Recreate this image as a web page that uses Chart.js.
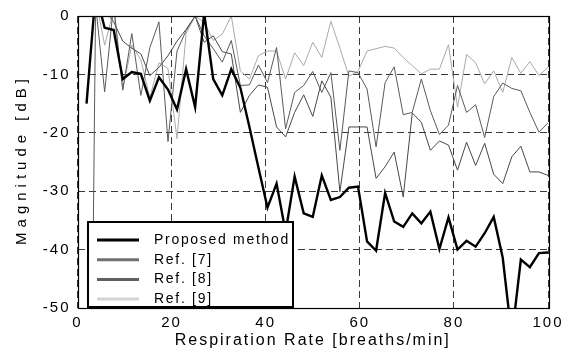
<!DOCTYPE html>
<html><head><meta charset="utf-8">
<script src="https://cdn.jsdelivr.net/npm/chart.js@4.4.0/dist/chart.umd.min.js"></script>
<style>html,body{margin:0;padding:0;background:#fff;overflow:hidden}canvas{display:block}</style>
</head><body>
<canvas id="c" width="573" height="352"></canvas>
<script>
// Respiration rate bins [breaths/min]
const rates = [1.92,3.85,5.77,7.69,9.62,11.54,13.46,15.38,17.31,19.23,21.15,23.08,25,26.92,28.85,30.77,32.69,34.62,36.54,38.46,40.38,42.31,44.23,46.15,48.08,50,51.92,53.85,55.77,57.69,59.62,61.54,63.46,65.38,67.31,69.23,71.15,73.08,75,76.92,78.85,80.77,82.69,84.62,86.54,88.46,90.38,92.31,94.23,96.15,98.08,100];

// Magnitude [dB]
const proposed = [-15,4,-2,-2.4,-10.8,-9.6,-9.9,-14.5,-10.5,-12.6,-16,-9.1,-15.6,0.5,-10.8,-13.6,-9.1,-12.3,-19,-26,-32.8,-28.7,-37,-27.5,-33.8,-34.4,-27.3,-31.5,-31,-29.4,-29.2,-38.6,-40.2,-30.3,-35.2,-36.1,-33.8,-35.5,-33.5,-39.9,-34.5,-40,-38.5,-39.5,-37.2,-34.4,-41.4,-55,-41.7,-43,-40.6,-40.5];
const ref7 = [-150,2,-13,2,-12.7,-3,-13.6,-5.4,-1,-21.5,-6,-2.5,0,-3.4,-5.6,-7.9,-4.2,-11.9,-11.8,-8.4,-11.4,-5.4,-19.3,-13.1,-11.9,-9.5,-13.1,-9.7,-23,-9.4,-9.7,-12.5,-22.4,-11.4,-8.7,-16.9,-16.5,-10.8,-16.2,-20.3,-18.7,-11.9,-16.5,-15.2,-20.8,-13.8,-11.5,-12.4,-12.8,-16.5,-19.9,-18.3];
const ref8 = [3,3,1,-1,-4.3,-5.5,-6.5,-10.2,-8.8,-6.8,-4.3,-2.3,0,-4.5,-3.4,-6.1,-6.5,-16.5,-13.6,-11.8,-12.2,-19,-20.7,-16.5,-13.5,-17.2,-11.1,-13.9,-30.1,-19,-19,-19,-27.8,-25.8,-23.3,-31,-16.6,-18.2,-23,-21.4,-22.1,-26.4,-21.6,-25.6,-21.8,-27.1,-28.7,-24.1,-22.3,-26.7,-26.7,-27.3];
const ref9 = [2,3,-5,1,-12.5,-5,-7.5,-14,-8,-9,-21,-3,0,-1.1,-4.2,-3.1,0,-9.4,-10.8,-6.8,-6,-6,-10.8,-6.3,-8.5,-4.5,-7.1,-0.9,-5.5,-10.3,-9.5,-6,-5.6,-5.2,-5.5,-7.1,-8.5,-9.9,-9.1,-9.1,-4.9,-15.6,-6.6,-8,-11.6,-9.4,-13.1,-7.1,-9.8,-7.8,-10.2,-8.8];

const seriesNames = ['Proposed method','Ref. [7]','Ref. [8]','Ref. [9]'];
const xTickValues = [0,20,40,60,80,100];
const yTickValues = [0,-10,-20,-30,-40,-50];
const yTitle = 'Magnitude [dB]';

const FONT = "'Liberation Sans', Arial, sans-serif";
const pts = arr => arr.map((v,i)=>({x:rates[i], y:v}));

const spacing = {
  id:'spacing',
  beforeLayout(c){ c.ctx.letterSpacing='2px'; },
  beforeDraw(c){ c.ctx.letterSpacing='2px'; }
};

const frame = {
  id:'frame',
  afterDatasetsDraw(c){
    const {ctx, chartArea:a} = c;
    ctx.save();
    ctx.strokeStyle='#000'; ctx.lineWidth=1.2;
    ctx.strokeRect(Math.round(a.left)+0.5, Math.round(a.top)+0.5, Math.round(a.right-a.left), Math.round(a.bottom-a.top));
    ctx.restore();
  }
};

const yTitlePlugin = {
  id:'yTitlePlugin',
  afterDraw(c){
    const {ctx, chartArea:a} = c;
    ctx.save();
    ctx.letterSpacing='5px';
    ctx.font='15px ' + FONT;
    ctx.fillStyle='#000';
    ctx.textAlign='center'; ctx.textBaseline='middle';
    ctx.translate(22, (a.top+a.bottom)/2);
    ctx.rotate(-Math.PI/2);
    ctx.fillText(yTitle, 2.5, 0);
    ctx.restore();
  }
};

const boxLegend = {
  id:'boxLegend',
  afterDraw(c, args, o){
    const ctx=c.ctx;
    ctx.save();
    ctx.letterSpacing='1.7px';
    ctx.fillStyle='#fff';
    ctx.fillRect(o.x, o.y, o.w, o.h);
    ctx.font = '14px ' + FONT;
    ctx.textBaseline='middle';
    c.data.datasets.forEach((d,i)=>{
      const y = o.y + o.first + i*o.row;
      ctx.strokeStyle = o.colors[i]; ctx.lineWidth = 3;
      ctx.beginPath(); ctx.moveTo(o.x+9, y); ctx.lineTo(o.x+51, y); ctx.stroke();
      ctx.fillStyle='#000';
      ctx.fillText(d.label, o.x+66, y);
    });
    ctx.strokeStyle='#000'; ctx.lineWidth=2;
    ctx.strokeRect(o.x, o.y, o.w, o.h);
    ctx.restore();
  }
};

new Chart(document.getElementById('c'), {
  type:'line',
  data:{ datasets:[
    {label:seriesNames[0], data:pts(proposed), borderColor:'#000', borderWidth:2.4},
    {label:seriesNames[1], data:pts(ref7), borderColor:'#5a5a5a', borderWidth:1},
    {label:seriesNames[2], data:pts(ref8), borderColor:'#484848', borderWidth:1},
    {label:seriesNames[3], data:pts(ref9), borderColor:'#aaaaaa', borderWidth:1}
  ]},
  options:{
    responsive:false, animation:false, devicePixelRatio:1,
    layout:{padding:{top:15,right:25,left:0,bottom:0}},
    elements:{point:{radius:0}, line:{tension:0, fill:false}},
    plugins:{
      legend:{display:false}, tooltip:{enabled:false},
      boxLegend:{x:88,y:222,w:205,h:85,first:18,row:19.7,colors:['#000','#707070','#606060','#d4d4d4']}
    },
    scales:{
      x:{type:'linear', min:0, max:100,
        afterBuildTicks:s=>{s.ticks = xTickValues.map(v=>({value:v}));},
        afterFit:s=>{s.height=44;},
        grid:{color:'#3a3a3a', lineWidth:1, drawTicks:false},
        border:{display:false, dash:[7,4]},
        ticks:{color:'#000', font:{family:FONT,size:15}, padding:6, maxRotation:0},
        title:{display:true, text:'Respiration Rate [breaths/min]', color:'#000', font:{family:FONT,size:16}, padding:{top:0,bottom:2}}
      },
      y:{type:'linear', min:-50, max:0,
        afterBuildTicks:s=>{s.ticks = yTickValues.map(v=>({value:v}));},
        afterFit:s=>{s.width=77.5;},
        grid:{color:'#3a3a3a', lineWidth:1, drawTicks:false},
        border:{display:false, dash:[7,4]},
        ticks:{color:'#000', font:{family:FONT,size:15}, padding:7},
        title:{display:false}
      }
    }
  },
  plugins:[spacing, frame, yTitlePlugin, boxLegend]
});
</script>
</body></html>
